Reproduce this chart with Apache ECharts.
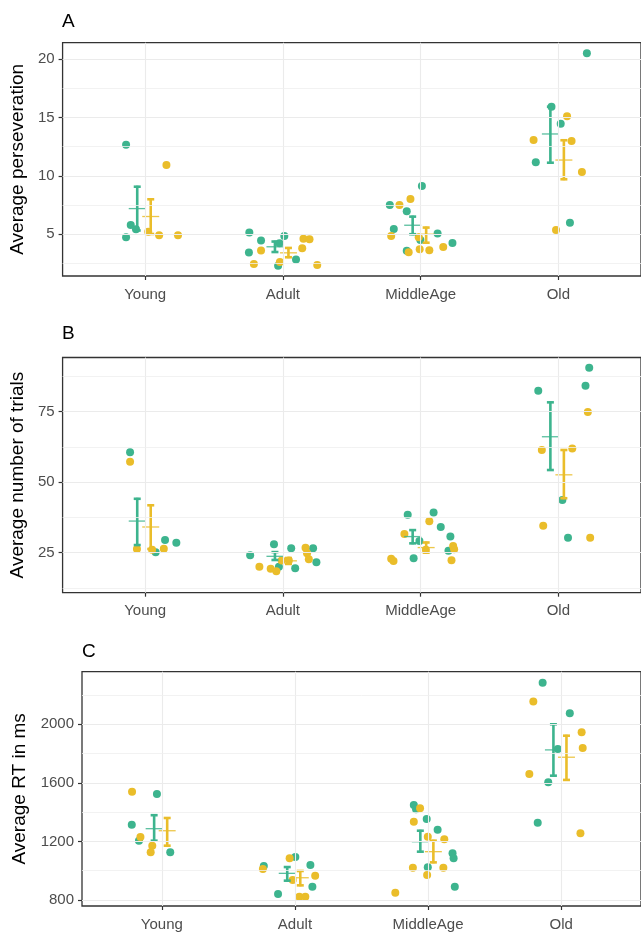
<!DOCTYPE html>
<html><head><meta charset="utf-8">
<script src="https://cdn.jsdelivr.net/npm/echarts@6/dist/echarts.min.js"></script>
<style>html,body{margin:0;padding:0;background:#fff}#c{width:641px;height:934px}</style>
</head><body><div id="c"></div><script>
const categories = ['Young', 'Adult', 'MiddleAge', 'Old'];

// ---- Panel A: Average perseveration ----
const persevGreen = [[12.67, 4.72, 5.78, 5.41], [5.12, 4.43, 3.4, 4.83, 2.28, 2.8, 4.21], [7.49, 6.95, 9.12, 5.43, 5.03, 4.23, 3.55, 4.49], [20.52, 15.93, 14.47, 11.16, 5.97]];
const persevGreenJitter = [[-0.139, -0.139, -0.105, -0.067], [-0.244, -0.159, -0.247, 0.01, -0.035, 0.095, -0.025], [-0.224, -0.101, 0.009, -0.195, 0.123, 0.231, -0.101, -0.002], [0.207, -0.05, 0.017, -0.164, 0.084]];
const persevYellow = [[10.93, 5.2, 4.89, 4.89], [2.43, 3.57, 2.6, 3.78, 4.6, 4.55, 2.34], [7.49, 8.01, 4.83, 4.72, 3.43, 3.69, 3.6, 3.89], [13.07, 15.11, 12.99, 10.33, 5.35]];
const persevYellowJitter = [[0.154, 0.022, 0.101, 0.238], [-0.211, -0.159, -0.022, 0.14, 0.149, 0.193, 0.249], [-0.154, -0.074, -0.214, -0.014, -0.087, -0.007, 0.063, 0.164], [-0.18, 0.063, 0.096, 0.171, -0.017]];
const persevGreenMean = [7.18, 3.9, 5.75, 13.59];
const persevGreenLow = [5.3, 3.45, 4.98, 11.12];
const persevGreenHigh = [9.06, 4.35, 6.49, 15.93];
const persevYellowMean = [6.5, 3.38, 4.98, 11.35];
const persevYellowLow = [5.0, 3.0, 4.25, 9.7];
const persevYellowHigh = [7.98, 3.8, 5.55, 13.05];
const ticksA = [5, 10, 15, 20];
const minorA = [2.5, 7.5, 12.5, 17.5];

// ---- Panel B: Average number of trials ----
const trialsGreen = [[60.6, 25.1, 29.5, 28.5], [24.1, 28, 26.6, 26.6, 21.6, 19.5, 20.0], [38.4, 39.2, 34.1, 30.7, 25.7, 29.1, 23.0], [82.4, 90.6, 84.2, 43.7, 30.3]];
const trialsGreenJitter = [[-0.11, 0.076, 0.144, 0.226], [-0.238, -0.065, 0.06, 0.219, 0.243, 0.089, -0.029], [-0.094, 0.094, 0.146, 0.216, 0.202, -0.009, -0.051], [-0.146, 0.224, 0.197, 0.029, 0.07]];
const trialsYellow = [[57.2, 26.3, 26, 26.4], [20, 19.3, 18.4, 22.2, 22.2, 26.7, 24.8, 22.7], [22.8, 22.0, 31.6, 36.1, 27.4, 26.2, 22.3, 26], [61.4, 61.9, 74.9, 34.5, 30.3]];
const trialsYellowJitter = [[-0.11, -0.06, 0.05, 0.135], [-0.171, -0.089, -0.048, -0.009, 0.043, 0.164, 0.175, 0.188], [-0.214, -0.197, -0.118, 0.063, 0.236, 0.243, 0.224, 0.038], [-0.12, 0.101, 0.214, -0.11, 0.231]];
const trialsGreenMean = [36.2, 23.7, 30.7, 66.1];
const trialsGreenLow = [27.7, 22.4, 28.3, 54.3];
const trialsGreenHigh = [44.1, 25.2, 33.0, 78.3];
const trialsYellowMean = [34.1, 22.1, 26.8, 52.6];
const trialsYellowLow = [26.3, 21.0, 25.0, 44.3];
const trialsYellowHigh = [41.8, 23.1, 28.6, 61.4];
const ticksB = [25, 50, 75];
const minorB = [12.5, 37.5, 62.5, 87.5];

// ---- Panel C: Average RT in ms ----
const rtGreen = [[1314, 1524, 1205, 1126], [1032, 1094, 1039, 891, 841], [1449, 1420, 1353, 1280, 1119, 1085, 1023, 891], [2284, 2075, 1831, 1604, 1328]];
const rtGreenJitter = [[-0.226, -0.037, -0.172, 0.063], [-0.234, 0.003, 0.116, 0.131, -0.127], [-0.107, -0.09, -0.01, 0.072, 0.184, 0.192, -0.002, 0.201], [-0.139, 0.065, -0.025, -0.097, -0.176]];
const rtYellow = [[1540, 1230, 1171, 1126], [1012, 1085, 937, 966, 823, 823], [1426, 1335, 1232, 1215, 1021, 1021, 971, 850], [2155, 1945, 1838, 1661, 1256]];
const rtYellowJitter = [[-0.224, -0.161, -0.072, -0.084], [-0.241, -0.04, -0.017, 0.152, 0.033, 0.078], [-0.06, -0.107, -0.002, 0.122, -0.114, 0.115, -0.007, -0.246], [-0.209, 0.154, 0.162, -0.239, 0.145]];
const rtGreenMean = [1287, 982, 1198, 1825];
const rtGreenLow = [1205, 932, 1130, 1649];
const rtGreenHigh = [1379, 1025, 1273, 2000];
const rtYellowMean = [1273, 952, 1130, 1775];
const rtYellowLow = [1171, 900, 1057, 1620];
const rtYellowHigh = [1360, 998, 1205, 1922];
const ticksC = [800, 1200, 1600, 2000];
const minorC = [1000, 1400, 1800, 2200];

// ---- styling ----
const GREEN = '#3DB48E';
const YELLOW = '#EABD2A';
const FONT = "'Liberation Sans', Arial, sans-serif";
const DODGE_G = -0.058, DODGE_Y = 0.04;
const catPos = categories.map((c, i) => i + 1);

const chart = echarts.init(document.getElementById('c'), null, { renderer: 'canvas' });

function pts(vals, jit) {
  const out = [];
  vals.forEach((arr, i) => arr.forEach((v, k) => out.push([catPos[i] + jit[i][k], v])));
  return out;
}
function bars(mean, lo, hi, dodge) {
  return mean.map((m, i) => [catPos[i] + dodge, m, lo[i], hi[i]]);
}
function errRender(params, api) {
  const x = api.value(0);
  const pm = api.coord([x, api.value(1)]);
  const pl = api.coord([x, api.value(2)]);
  const ph = api.coord([x, api.value(3)]);
  const c = api.visual('color');
  const st = { stroke: c, lineWidth: 2.6 };
  return { type: 'group', children: [
    { type: 'line', shape: { x1: pl[0], y1: pl[1] + 1, x2: ph[0], y2: ph[1] - 1 }, style: st },
    { type: 'line', shape: { x1: ph[0] - 3.5, y1: ph[1], x2: ph[0] + 3.5, y2: ph[1] }, style: st },
    { type: 'line', shape: { x1: pl[0] - 3.5, y1: pl[1], x2: pl[0] + 3.5, y2: pl[1] }, style: st },
    { type: 'line', shape: { x1: pm[0] - 8.5, y1: pm[1], x2: pm[0] + 8.5, y2: pm[1] }, style: { stroke: c, lineWidth: 1.3, opacity: 0.85 } }
  ]};
}

const grids = [
  { left: 62, top: 42.7, width: 582.5, height: 233.3 },
  { left: 62, top: 357.5, width: 582.5, height: 235.2 },
  { left: 82, top: 671.7, width: 563, height: 234.3 }
];
const yDefs = [
  { name: 'Average perseveration', min: 1.39, max: 21.43, ticks: ticksA, minor: minorA, gap: 31 },
  { name: 'Average number of trials', min: 10.8, max: 94.2, ticks: ticksB, minor: minorB, gap: 31 },
  { name: 'Average RT in ms', min: 759, max: 2359, ticks: ticksC, minor: minorC, gap: 51 }
];
const panels = [
  { g: persevGreen, gj: persevGreenJitter, y: persevYellow, yj: persevYellowJitter,
    gm: persevGreenMean, gl: persevGreenLow, gh: persevGreenHigh, ym: persevYellowMean, yl: persevYellowLow, yh: persevYellowHigh },
  { g: trialsGreen, gj: trialsGreenJitter, y: trialsYellow, yj: trialsYellowJitter,
    gm: trialsGreenMean, gl: trialsGreenLow, gh: trialsGreenHigh, ym: trialsYellowMean, yl: trialsYellowLow, yh: trialsYellowHigh },
  { g: rtGreen, gj: rtGreenJitter, y: rtYellow, yj: rtYellowJitter,
    gm: rtGreenMean, gl: rtGreenLow, gh: rtGreenHigh, ym: rtYellowMean, yl: rtYellowLow, yh: rtYellowHigh }
];

const option = {
  backgroundColor: '#fff',
  animation: false,
  textStyle: { fontFamily: FONT },
  title: [
    { text: 'A', left: 62, top: 12 },
    { text: 'B', left: 62, top: 324 },
    { text: 'C', left: 82, top: 642 }
  ].map(t => Object.assign(t, { padding: 0, textStyle: { fontFamily: FONT, fontSize: 19, fontWeight: 'normal', color: '#000' } })),
  grid: grids.map(g => Object.assign({ show: true, borderColor: '#333', borderWidth: 1.3, backgroundColor: '#fff', containLabel: false }, g)),
  xAxis: grids.map((g, i) => ({
    type: 'value', gridIndex: i, min: 0.4, max: 4.6,
    axisLine: { show: false },
    splitLine: { show: false },
    axisTick: { show: true, customValues: catPos, length: 4, lineStyle: { color: '#333', width: 1.2 } },
    axisLabel: { show: true, customValues: catPos, margin: 11, color: '#4D4D4D', fontSize: 15, fontFamily: FONT,
      formatter: v => categories[Math.round(v) - 1] || '' }
  })),
  yAxis: yDefs.map((d, i) => ({
    type: 'value', gridIndex: i, min: d.min, max: d.max,
    name: d.name, nameLocation: 'middle', nameGap: d.gap,
    nameTextStyle: { fontSize: 19, color: '#000', fontFamily: FONT },
    axisLine: { show: false },
    splitLine: { show: false },
    axisTick: { show: true, customValues: d.ticks, length: 4, lineStyle: { color: '#333', width: 1.2 } },
    axisLabel: { show: true, customValues: d.ticks, margin: 8, color: '#4D4D4D', fontSize: 15, fontFamily: FONT,
      formatter: v => String(v) }
  })),
  series: []
};

panels.forEach((p, i) => {
  const d = yDefs[i];
  // grid lines (theme_bw style)
  option.series.push({
    type: 'scatter', xAxisIndex: i, yAxisIndex: i, data: [], z: 1, silent: true,
    markLine: {
      silent: true, symbol: 'none', animation: false, label: { show: false },
      data: [
        ...catPos.map(v => ({ xAxis: v, lineStyle: { color: '#EBEBEB', width: 1.1, type: 'solid' } })),
        ...d.ticks.map(v => ({ yAxis: v, lineStyle: { color: '#EBEBEB', width: 1.1, type: 'solid' } })),
        ...d.minor.map(v => ({ yAxis: v, lineStyle: { color: '#EFEFEF', width: 0.8, type: 'solid' } }))
      ]
    }
  });
  option.series.push({ type: 'scatter', xAxisIndex: i, yAxisIndex: i, z: 3, symbolSize: 8,
    itemStyle: { color: GREEN, opacity: 1 }, data: pts(p.g, p.gj) });
  option.series.push({ type: 'scatter', xAxisIndex: i, yAxisIndex: i, z: 3, symbolSize: 8,
    itemStyle: { color: YELLOW, opacity: 1 }, data: pts(p.y, p.yj) });
  option.series.push({ type: 'custom', xAxisIndex: i, yAxisIndex: i, z: 4, renderItem: errRender,
    itemStyle: { color: GREEN }, data: bars(p.gm, p.gl, p.gh, DODGE_G) });
  option.series.push({ type: 'custom', xAxisIndex: i, yAxisIndex: i, z: 4, renderItem: errRender,
    itemStyle: { color: YELLOW }, data: bars(p.ym, p.yl, p.yh, DODGE_Y) });
});

chart.setOption(option);
</script></body></html>
